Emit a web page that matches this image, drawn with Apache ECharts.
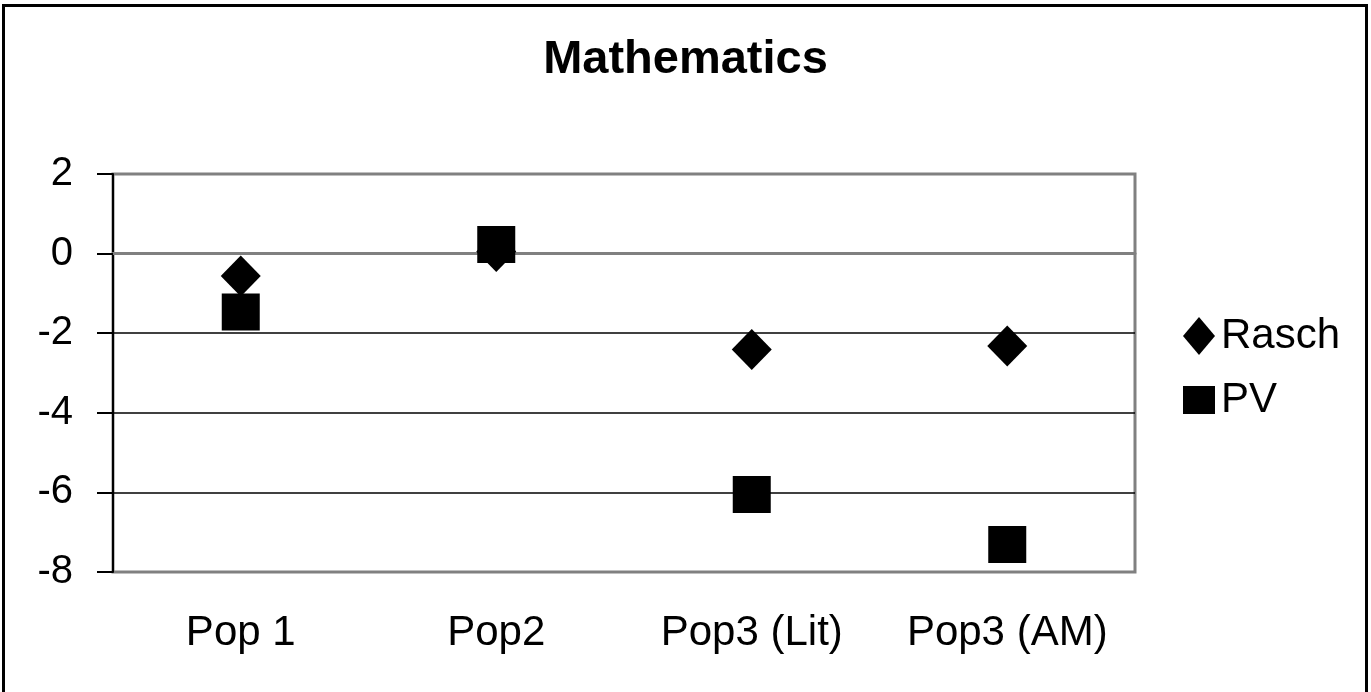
<!DOCTYPE html>
<html>
<head>
<meta charset="utf-8">
<style>
html,body{margin:0;padding:0;background:#fff;}
#chart{width:1371px;height:692px;}
</style>
<script src="https://cdn.jsdelivr.net/npm/echarts@6/dist/echarts.min.js"></script>
</head>
<body>
<div id="chart"></div>
<script>
const categories = ['Pop 1', 'Pop2', 'Pop3 (Lit)', 'Pop3 (AM)'];
const raschValues = [-0.56, 0.05, -2.41, -2.32];
const pvValues = [-1.47, 0.23, -6.05, -7.31];
const yTicks = [-8, -6, -4, -2, 0, 2];

const FONT = '"Liberation Sans", Arial, sans-serif';
const chart = echarts.init(document.getElementById('chart'), null, {renderer: 'canvas'});
chart.setOption({
  backgroundColor: '#ffffff',
  animation: false,
  title: {
    text: 'Mathematics',
    left: 'center',
    top: 32,
    textStyle: {fontFamily: FONT, fontSize: 47, fontWeight: 'bold', color: '#000'}
  },
  legend: {
    orient: 'vertical',
    left: 1178,
    top: 310,
    itemWidth: 32,
    itemHeight: 38,
    itemGap: 22,
    symbolKeepAspect: true,
    itemStyle: {opacity: 1},
    textStyle: {fontFamily: FONT, fontSize: 42, color: '#000', padding: [0, 0, 0, 1]},
    data: [
      {name: 'Rasch', icon: 'path://M16,0L32,19L16,38L0,19Z'},
      {name: 'PV', icon: 'path://M0,0h32v28h-32z'}
    ]
  },
  grid: {
    left: 113, right: 236, top: 174, bottom: 120,
    show: true, borderColor: '#808080', borderWidth: 3, backgroundColor: '#fff'
  },
  xAxis: {
    type: 'category',
    data: categories,
    boundaryGap: true,
    axisLine: {show: true, lineStyle: {color: '#808080', width: 3}},
    axisTick: {show: false},
    axisLabel: {fontFamily: FONT, fontSize: 42, color: '#000', margin: 40, interval: 0, hideOverlap: false}
  },
  yAxis: {
    type: 'value',
    min: yTicks[0],
    max: yTicks[yTicks.length - 1],
    interval: 2,
    axisLine: {show: true, lineStyle: {color: '#000', width: 2}},
    axisTick: {show: true, length: 16, lineStyle: {color: '#000', width: 2}},
    axisLabel: {fontFamily: FONT, fontSize: 40, color: '#000', margin: 40},
    splitLine: {show: true, lineStyle: {color: ['transparent', '#000', '#000', '#000', '#000', 'transparent'], width: 1.5}}
  },
  series: [
    {
      name: 'Rasch', type: 'scatter', data: raschValues,
      symbol: 'diamond', symbolSize: [40, 41],
      itemStyle: {color: '#000', opacity: 1}, z: 3
    },
    {
      name: 'PV', type: 'scatter', data: pvValues,
      symbol: 'rect', symbolSize: [38, 37],
      itemStyle: {color: '#000', opacity: 1}, z: 4
    }
  ],
  graphic: [{
    type: 'rect',
    shape: {x: 3.5, y: 5.5, width: 1363, height: 700},
    style: {fill: 'none', stroke: '#000', lineWidth: 3},
    silent: true
  }]
});
</script>
</body>
</html>
